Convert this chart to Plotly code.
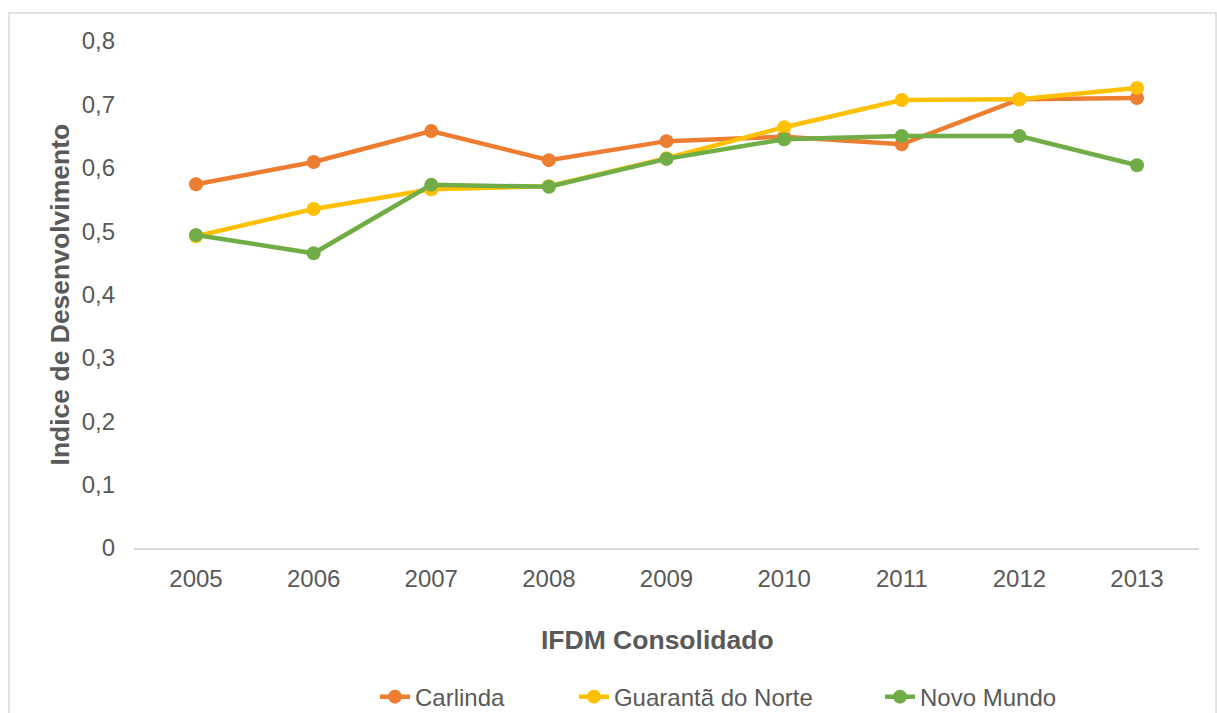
import plotly.graph_objects as go

# IFDM consolidated index per municipality, 2005-2013
years = ["2005", "2006", "2007", "2008", "2009", "2010", "2011", "2012", "2013"]
carlinda = [0.574, 0.609, 0.658, 0.612, 0.642, 0.649, 0.637, 0.708, 0.710]
guaranta = [0.492, 0.535, 0.566, 0.571, 0.615, 0.664, 0.707, 0.708, 0.726]
novo_mundo = [0.494, 0.465, 0.573, 0.570, 0.614, 0.645, 0.650, 0.650, 0.604]
y_ticks = [0, 0.1, 0.2, 0.3, 0.4, 0.5, 0.6, 0.7, 0.8]

series = [
    ("Carlinda", carlinda, "#ED7D31", "legend", 0.2263),
    ("Guarantã do Norte", guaranta, "#FFC000", "legend2", 0.4131),
    ("Novo Mundo", novo_mundo, "#70AD47", "legend3", 0.7005),
]

FONT = "Liberation Sans, Arial, sans-serif"
TEXT = "#595959"

fig = go.Figure()
legends = {}
for name, vals, color, leg, lx in series:
    fig.add_trace(go.Scatter(
        x=years, y=vals, name=name, mode="lines+markers",
        line=dict(color=color, width=4.5),
        marker=dict(color=color, size=14),
        legend=leg,
    ))
    legends[leg] = dict(orientation="h", x=lx, xanchor="left",
                        yref="container", y=0.0224, yanchor="middle",
                        font=dict(size=24, color=TEXT), bgcolor="rgba(0,0,0,0)")

fig.update_layout(
    width=1217, height=713,
    margin=dict(l=134, r=18, t=41, b=165, autoexpand=False),
    paper_bgcolor="white", plot_bgcolor="white",
    separators=",.",
    font=dict(family=FONT, size=24, color=TEXT),
    showlegend=True,
    xaxis=dict(type="category", showgrid=False, zeroline=False,
               showline=True, linecolor="#D9D9D9", linewidth=1.5,
               ticks="", ticklabelstandoff=8,
               tickfont=dict(size=24, color=TEXT)),
    yaxis=dict(range=[0, 0.8], tickvals=y_ticks, showgrid=False, zeroline=False,
               showline=False, ticks="", ticklabelstandoff=18,
               tickfont=dict(size=24, color=TEXT)),
    annotations=[
        dict(text="<b>IFDM Consolidado</b>", xref="paper", yref="paper",
             x=0.492, y=-0.1815, xanchor="center", yanchor="middle",
             showarrow=False, font=dict(size=26.5, color=TEXT)),
        dict(text="<b>Indice de Desenvolvimento</b>", xref="paper", yref="paper",
             x=-0.0695, y=0.5, xanchor="center", yanchor="middle", textangle=-90,
             showarrow=False, font=dict(size=26.5, color=TEXT)),
    ],
    shapes=[
        dict(type="rect", xref="paper", yref="paper",
             x0=-0.1174, x1=1.016, y0=-0.45, y1=1.0552,
             line=dict(color="#D9D9D9", width=1.5), layer="below"),
    ],
    **legends,
)

fig.write_html("out.html")
